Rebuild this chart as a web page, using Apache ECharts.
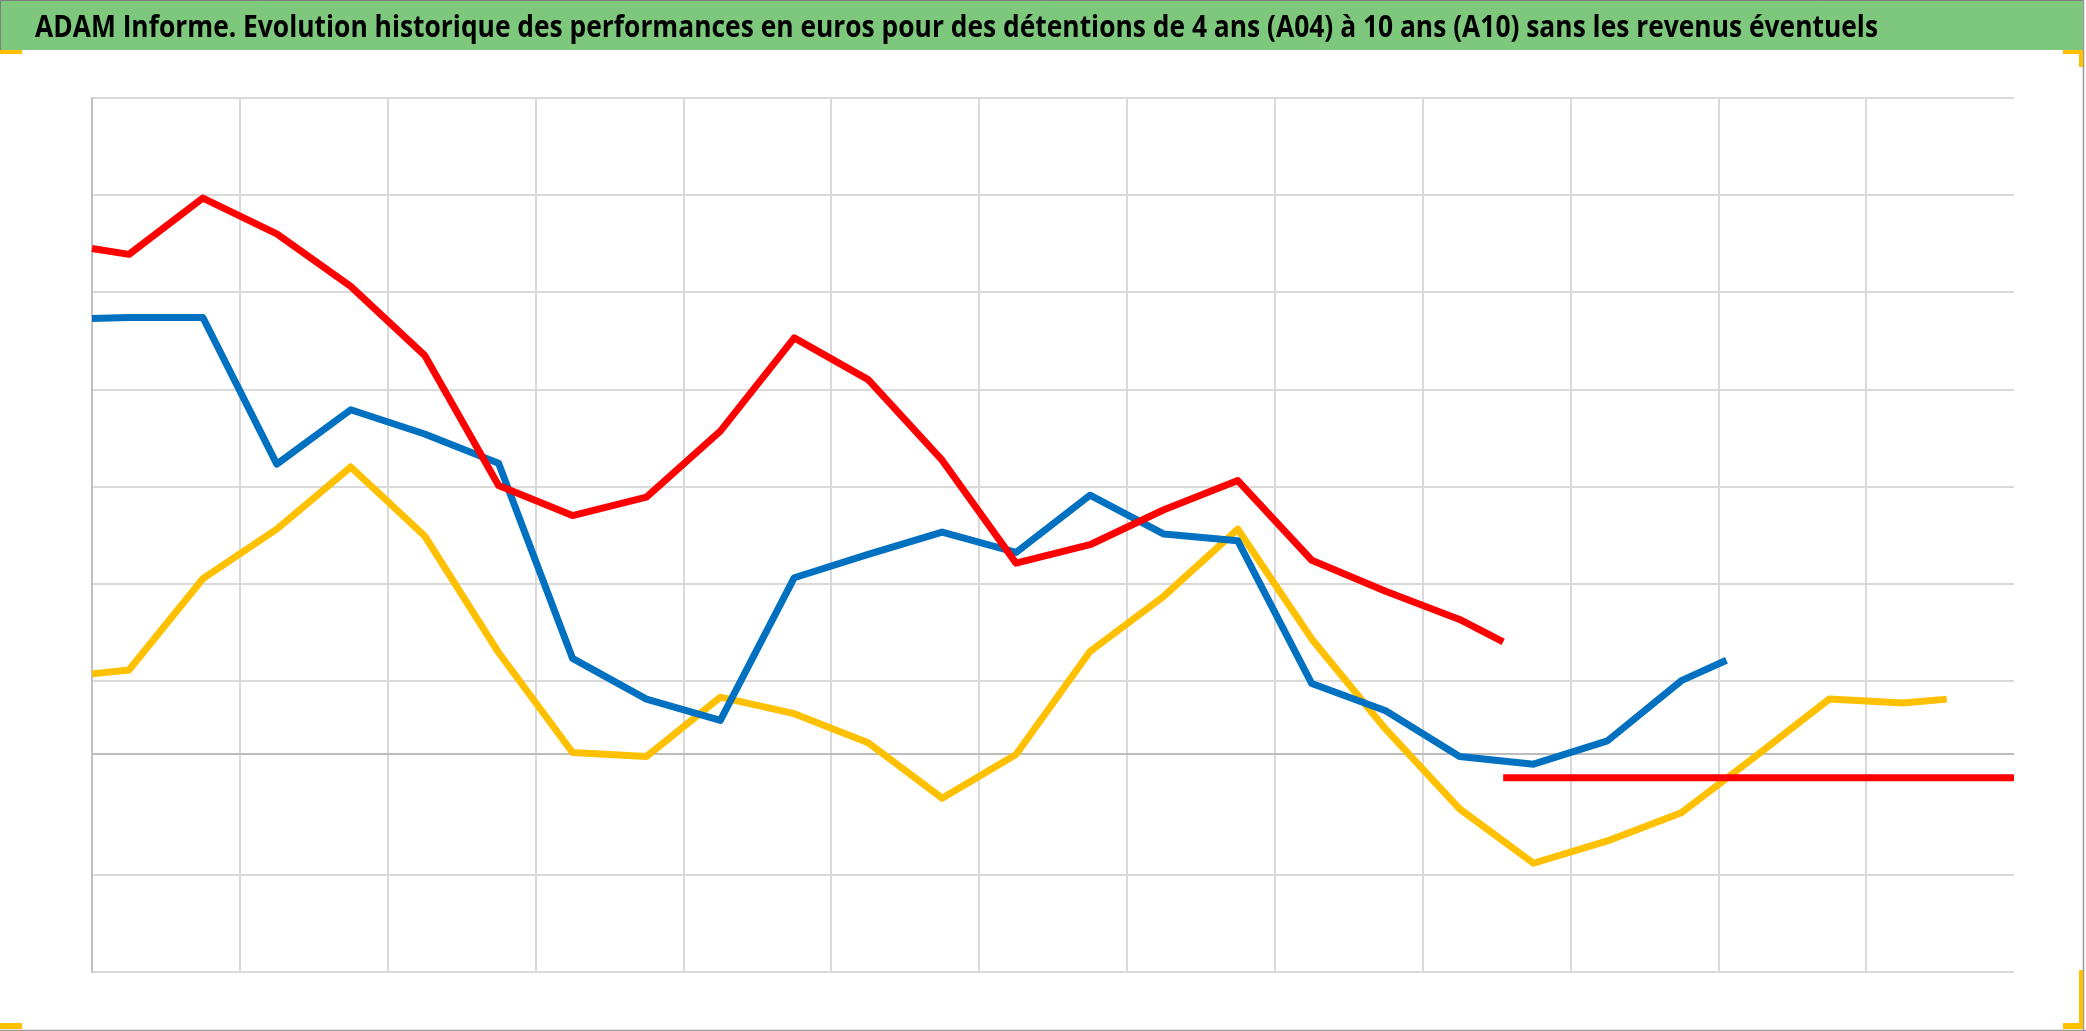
<!DOCTYPE html>
<html><head><meta charset="utf-8">
<script src="https://cdn.jsdelivr.net/npm/echarts@6/dist/echarts.min.js"></script>
<style>html,body{margin:0;padding:0;background:#fff}#c{width:2086px;height:1031px}</style>
</head><body><div id="c"></div>
<script>
const titleText = 'ADAM Informe. Evolution historique des performances en euros pour des détentions de 4 ans (A04) à 10 ans (A10) sans les revenus éventuels';

// x in half-year periods (gridline every 2 periods), y in grid units
const redX = [0,0.5,1.5,2.5,3.5,4.5,5.5,6.5,7.5,8.5,9.5,10.5,11.5,12.5,13.5,14.5,15.5,16.5,17.5,18.5,19.09];
const redY = [7.45,7.39,7.97,7.60,7.06,6.35,5.01,4.70,4.89,5.57,6.53,6.10,5.27,4.21,4.40,4.76,5.06,4.24,3.92,3.63,3.40];

const blueX = [0,0.5,1.5,2.5,3.5,4.5,5.5,6.5,7.5,8.5,9.5,10.5,11.5,12.5,13.5,14.5,15.5,16.5,17.5,18.5,19.5,20.5,21.5,22.11];
const blueY = [6.73,6.74,6.74,5.23,5.79,5.54,5.24,3.23,2.81,2.59,4.06,4.30,4.53,4.32,4.91,4.51,4.44,2.97,2.69,2.22,2.14,2.38,3.00,3.21];

const yellowX = [0,0.5,1.5,2.5,3.5,4.5,5.5,6.5,7.5,8.5,9.5,10.5,11.5,12.5,13.5,14.5,15.5,16.5,17.5,18.5,19.5,20.5,21.5,22.5,23.5,24.5,25.09];
const yellowY = [3.07,3.11,4.05,4.56,5.20,4.49,3.29,2.26,2.22,2.83,2.66,2.36,1.79,2.24,3.30,3.87,4.56,3.43,2.50,1.68,1.12,1.35,1.64,2.22,2.81,2.77,2.81];

const flatX = [19.09, 26];
const flatY = [2.0, 2.0];

const axisCross = 2.255;
const xMin = 0, xMax = 26, xStep = 2;
const yMin = 0, yMax = 9, yStep = 1;

const pairs = (xs, ys) => xs.map((x, i) => [x, ys[i]]);

// title font: fit the reference width by horizontal scaling
const titleFont = 'bold 31px "Open Sans", "Noto Sans", sans-serif';
const mctx = document.createElement('canvas').getContext('2d');
mctx.font = titleFont;
const titleW = mctx.measureText(titleText).width;
const titleScale = 1843 / titleW;

const chart = echarts.init(document.getElementById('c'), null, {renderer: 'canvas'});
const gridColors = [];
for (let v = yMin; v <= yMax; v += yStep) gridColors.push(v === 2 ? 'rgba(0,0,0,0)' : '#d9d9d9');

const lineSeries = (name, data, color, z) => ({
  name, type: 'line', data, showSymbol: false, symbol: 'none', z,
  lineStyle: {color, width: 7, join: 'round', cap: 'butt'},
  emphasis: {disabled: true}, animation: false
});

chart.setOption({
  backgroundColor: '#ffffff',
  animation: false,
  grid: {left: 92, top: 98, width: 1922, height: 874, containLabel: false},
  xAxis: {
    type: 'value', min: xMin, max: xMax, interval: xStep,
    axisLine: {show: false}, axisTick: {show: false}, axisLabel: {show: false},
    splitLine: {show: true, showMinLine: false, showMaxLine: false, lineStyle: {color: '#d9d9d9', width: 2}}
  },
  yAxis: {
    type: 'value', min: yMin, max: yMax, interval: yStep,
    axisLine: {show: true, lineStyle: {color: '#c0c0c0', width: 2}},
    axisTick: {show: false}, axisLabel: {show: false},
    splitLine: {show: true, lineStyle: {color: gridColors, width: 2}}
  },
  series: [
    Object.assign(lineSeries('A04', pairs(yellowX, yellowY), '#ffc000', 2), {
      markLine: {silent: true, z: 1, symbol: ['none','none'], label: {show: false},
        lineStyle: {color: '#bcbcbc', width: 2, type: 'solid'}, data: [{yAxis: axisCross}]}
    }),
    lineSeries('A07', pairs(blueX, blueY), '#0070c0', 3),
    lineSeries('A10', pairs(redX, redY), '#ff0000', 4),
    lineSeries('A10b', pairs(flatX, flatY), '#ff0000', 5)
  ],
  graphic: [
    {type: 'rect', shape: {x: 0, y: 0, width: 2083, height: 50}, style: {fill: '#7dc87c'}, z: 10},
    {type: 'line', shape: {x1: 0, y1: 0.5, x2: 2083, y2: 0.5}, style: {stroke: '#7f7f7f', lineWidth: 1}, z: 11},
    {type: 'line', shape: {x1: 0.5, y1: 0, x2: 0.5, y2: 50}, style: {stroke: '#7f7f7f', lineWidth: 1}, z: 11},
    {type: 'line', shape: {x1: 2083.5, y1: 0, x2: 2083.5, y2: 1031}, style: {stroke: '#9a9a9a', lineWidth: 1.5}, z: 11},
    {type: 'line', shape: {x1: 0, y1: 1030.5, x2: 2086, y2: 1030.5}, style: {stroke: '#9a9a9a', lineWidth: 1.5}, z: 11},
    {type: 'text', x: 35, y: 28, scaleX: titleScale, scaleY: 1, originX: 0, originY: 0,
      style: {text: titleText, fill: '#000', font: titleFont, verticalAlign: 'middle', align: 'left'}, z: 12},
    {type: 'rect', shape: {x: 0, y: 50, width: 22, height: 4}, style: {fill: '#ffc000'}, z: 12},
    {type: 'rect', shape: {x: 2063, y: 50, width: 20, height: 4}, style: {fill: '#ffc000'}, z: 12},
    {type: 'rect', shape: {x: 2079, y: 50, width: 4, height: 17}, style: {fill: '#ffc000'}, z: 12},
    {type: 'rect', shape: {x: 0, y: 1023, width: 22, height: 6}, style: {fill: '#ffc000'}, z: 12},
    {type: 'rect', shape: {x: 2063, y: 1023, width: 20, height: 6}, style: {fill: '#ffc000'}, z: 12},
    {type: 'rect', shape: {x: 2079, y: 970, width: 4, height: 59}, style: {fill: '#ffc000'}, z: 12}
  ]
});
</script></body></html>
